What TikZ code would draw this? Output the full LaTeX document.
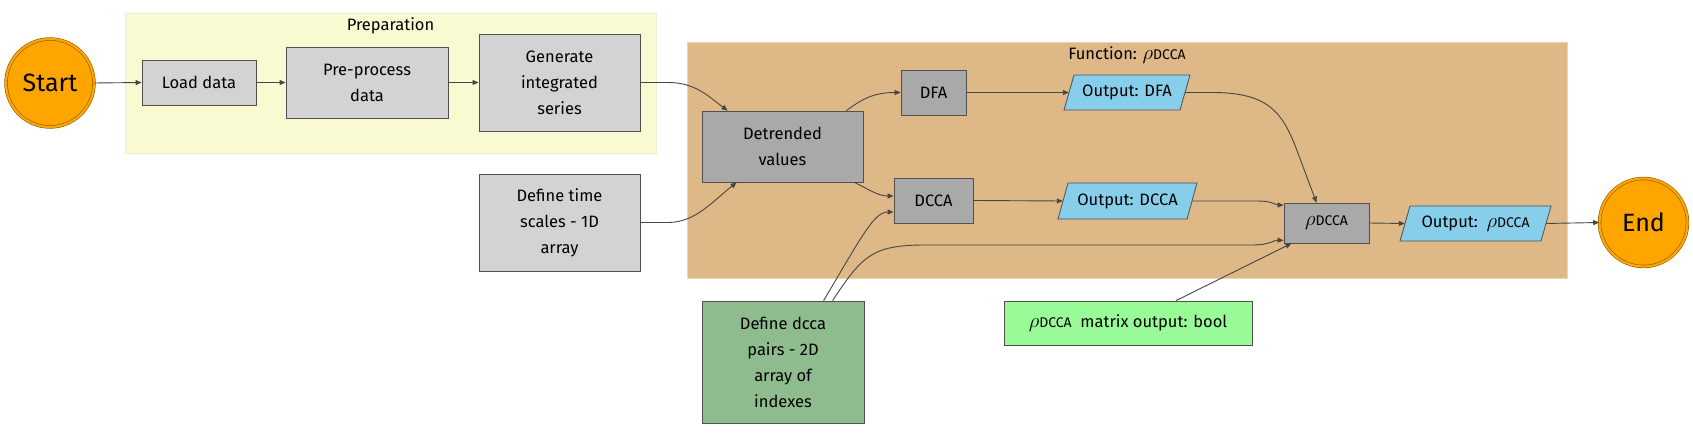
\documentclass[tikz,border=0pt]{standalone}
\usepackage{fontspec}
\setmainfont{Fira Sans}
\usetikzlibrary{arrows.meta}
\definecolor{yel}{RGB}{250,250,210}
\definecolor{yelbd}{RGB}{238,238,200}
\definecolor{brn}{RGB}{222,184,135}
\definecolor{brnbd}{RGB}{236,214,170}
\definecolor{lg}{RGB}{211,211,211}
\definecolor{dg}{RGB}{169,169,169}
\definecolor{sky}{RGB}{135,206,235}
\definecolor{pgreen}{RGB}{152,251,152}
\definecolor{dsgreen}{RGB}{143,188,143}
\definecolor{orng}{RGB}{255,165,0}
\definecolor{ring}{RGB}{140,95,0}
\definecolor{bd}{RGB}{80,80,80}
\definecolor{ln}{RGB}{70,70,70}
\newcommand\fs{\fontsize{16.5}{26}\selectfont}
\newcommand\rhoD{{\fontsize{22}{22}\selectfont$\rho$}{\fontsize{14}{14}\selectfont DCCA}}
\begin{document}
\begin{tikzpicture}[x=1pt,y=-1pt,
  box/.style={draw=bd, line width=0.8pt, align=center, inner sep=0pt, font=\fs},
  lbox/.style={box, fill=lg},
  dbox/.style={box, fill=dg},
  pbox/.style={align=center, inner sep=0pt, font=\fs},
  term/.style={circle, fill=orng, draw=ring, line width=0.6pt, double=orng, double distance=2.2pt, inner sep=0pt, minimum size=88pt, font=\fontsize{25}{25}\selectfont},
  arr/.style={draw=ln, line width=0.9pt, -{Triangle[length=6pt,width=5pt]}},
  para/.style={fill=sky, draw=bd, line width=0.8pt},
  glabel/.style={font=\fs, inner sep=0pt}
]
\useasboundingbox (0,0) rectangle (1693,435);
% subgraph backgrounds
\filldraw[fill=yel, draw=yelbd, line width=0.8pt] (125,13) rectangle (656,153);
\node[glabel] (prepl) at (390.5,26) {Preparation};
\filldraw[fill=brn, draw=brnbd, line width=0.8pt] (687,42) rectangle (1567,278);
\node[glabel] (funcl) at (1127,55) {Function: \rhoD};

% nodes
\node[term] (start) at (50,83) {Start};
\node[lbox, minimum width=114pt, minimum height=45pt] (load) at (199,82.5) {Load data};
\node[lbox, minimum width=162pt, minimum height=71pt] (pre) at (367,82.5) {Pre-process\\data};
\node[lbox, minimum width=161pt, minimum height=97pt] (gen) at (559.5,82.5) {Generate\\integrated\\series};
\node[lbox, minimum width=161pt, minimum height=97pt] (dts) at (559.5,222.5) {Define time\\scales - 1D\\array};
\node[dbox, minimum width=161pt, minimum height=71pt] (det) at (782.5,146.5) {Detrended\\values};
\node[dbox, minimum width=65pt, minimum height=45pt] (dfa) at (933.5,92.5) {DFA};
\node[dbox, minimum width=79pt, minimum height=45pt] (dcca) at (933.5,200.5) {DCCA};

% parallelograms
\filldraw[para] (1074,75) -- (1190,75) -- (1180,110) -- (1064,110) -- cycle;
\node[pbox, minimum width=116pt, minimum height=35pt] (odfa) at (1127,92.5) {Output: DFA};
\filldraw[para] (1068,183) -- (1197,183) -- (1187,219) -- (1058,219) -- cycle;
\node[pbox, minimum width=129pt, minimum height=36pt] (odcca) at (1127.5,201) {Output: DCCA};
\node[dbox, minimum width=85pt, minimum height=40pt] (rho) at (1326.5,223) {\rhoD};
\filldraw[para] (1410,206) -- (1551,206) -- (1541,241) -- (1400,241) -- cycle;
\node[pbox, minimum width=141pt, minimum height=35pt] (orho) at (1475.5,223.5) {Output:\ \ \rhoD};
\node[term] (end) at (1643.5,222.5) {End};

\node[box, fill=pgreen, minimum width=248pt, minimum height=44pt] (mat) at (1128,323) {\rhoD\ \ matrix output: bool};
\node[box, fill=dsgreen, minimum width=162pt, minimum height=122pt] (pairs) at (783,362) {Define dcca\\pairs - 2D\\array of\\indexes};

% edges
\draw[arr] (start.east) -- (load.west);
\draw[arr] (load.east) -- (pre.west);
\draw[arr] (pre.east) -- (gen.west);
\draw[arr] (gen.east) -- (668,82.5) .. controls (695,82.5) and (708,96) .. ([xshift=26pt]det.north west);
\draw[arr] (dts.east) -- (668,222.5) .. controls (695,222.5) and (712,202) .. ([xshift=35pt]det.south west);
\draw[arr] ([xshift=-17pt]det.north east) .. controls (862,99) and (874,92.5) .. (dfa.west);
\draw[arr] ([xshift=-9pt]det.south east) .. controls (868,189) and (878,196) .. ([yshift=4.5pt]dcca.west);
\draw[arr] ([xshift=122pt]pairs.north west) .. controls (862,236) and (874,212) .. ([yshift=-11.5pt]dcca.west);
\draw[arr] ([xshift=131pt]pairs.north west) .. controls (862,256) and (872,245) .. (925,245) -- (1252,245) .. controls (1270,245) and (1274,240) .. ([yshift=3pt]rho.south west);
\draw[arr] (dfa.east) -- (odfa.west);
\draw[arr] (dcca.east) -- (odcca.west);
\draw[arr] (odfa.east) -- (1212,92.5) .. controls (1268,92.5) and (1282,112) .. (1296,148) -- ([xshift=-10pt]rho.north);
\draw[arr] (odcca.east) -- (1258,201) .. controls (1272,201) and (1276,205) .. ([yshift=-2.5pt]rho.north west);
\draw[arr] (rho.east) -- (orho.west);
\draw[arr] (orho.east) -- (end.west);
\draw[arr] ([xshift=48pt]mat.north) -- ([xshift=-35pt]rho.south);
\end{tikzpicture}
\end{document}
